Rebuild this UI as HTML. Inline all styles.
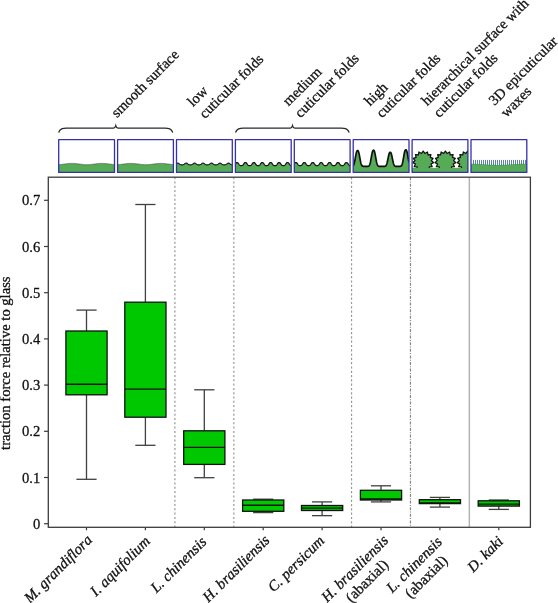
<!DOCTYPE html><html><head><meta charset="utf-8"><style>svg text{stroke:#111;stroke-width:0.3px}html,body{margin:0;padding:0;background:#fff;width:558px;height:603px;overflow:hidden;position:relative}</style></head><body><svg width="558" height="603" viewBox="0 0 558 603" style="position:absolute;left:0;top:0;will-change:transform" font-family='"Liberation Serif", serif' font-size="14.6" fill="#111">
<defs><clipPath id="c0"><rect x="58.70" y="139.7" width="55.8" height="32.70"/></clipPath><clipPath id="c1"><rect x="117.60" y="139.7" width="55.8" height="32.70"/></clipPath><clipPath id="c2"><rect x="176.50" y="139.7" width="55.8" height="32.70"/></clipPath><clipPath id="c3"><rect x="235.40" y="139.7" width="55.8" height="32.70"/></clipPath><clipPath id="c4"><rect x="294.30" y="139.7" width="55.8" height="32.70"/></clipPath><clipPath id="c5"><rect x="353.20" y="139.7" width="55.8" height="32.70"/></clipPath><clipPath id="c6"><rect x="412.10" y="139.7" width="55.8" height="32.70"/></clipPath><clipPath id="c7"><rect x="471.00" y="139.7" width="55.8" height="32.70"/></clipPath></defs>
<g clip-path="url(#c0)"><polygon points="58.70,164.66 58.95,164.65 59.20,164.63 59.45,164.62 59.70,164.60 59.95,164.58 60.20,164.56 60.45,164.54 60.70,164.51 60.95,164.49 61.20,164.46 61.45,164.44 61.70,164.41 61.95,164.38 62.20,164.35 62.45,164.32 62.70,164.29 62.95,164.26 63.20,164.22 63.45,164.19 63.70,164.16 63.95,164.12 64.20,164.09 64.45,164.06 64.70,164.02 64.95,163.99 65.20,163.96 65.45,163.92 65.70,163.89 65.95,163.86 66.20,163.82 66.45,163.79 66.70,163.76 66.95,163.73 67.20,163.70 67.45,163.67 67.70,163.65 67.95,163.62 68.20,163.60 68.45,163.57 68.70,163.55 68.95,163.53 69.20,163.51 69.45,163.49 69.70,163.47 69.95,163.46 70.20,163.45 70.45,163.43 70.70,163.42 70.95,163.42 71.20,163.41 71.45,163.40 71.70,163.40 71.95,163.40 72.20,163.40 72.45,163.40 72.70,163.41 72.95,163.41 73.20,163.42 73.45,163.43 73.70,163.44 73.95,163.45 74.20,163.47 74.45,163.48 74.70,163.50 74.95,163.52 75.20,163.54 75.45,163.56 75.70,163.59 75.95,163.61 76.20,163.64 76.45,163.66 76.70,163.69 76.95,163.72 77.20,163.75 77.45,163.78 77.70,163.81 77.95,163.84 78.20,163.88 78.45,163.91 78.70,163.94 78.95,163.98 79.20,164.01 79.45,164.04 79.70,164.08 79.95,164.11 80.20,164.14 80.45,164.18 80.70,164.21 80.95,164.24 81.20,164.28 81.45,164.31 81.70,164.34 81.95,164.37 82.20,164.40 82.45,164.43 82.70,164.45 82.95,164.48 83.20,164.50 83.45,164.53 83.70,164.55 83.95,164.57 84.20,164.59 84.45,164.61 84.70,164.63 84.95,164.64 85.20,164.65 85.45,164.67 85.70,164.68 85.95,164.68 86.20,164.69 86.45,164.70 86.70,164.70 86.95,164.70 87.20,164.70 87.45,164.70 87.70,164.69 87.95,164.69 88.20,164.68 88.45,164.67 88.70,164.66 88.95,164.65 89.20,164.63 89.45,164.62 89.70,164.60 89.95,164.58 90.20,164.56 90.45,164.54 90.70,164.51 90.95,164.49 91.20,164.46 91.45,164.44 91.70,164.41 91.95,164.38 92.20,164.35 92.45,164.32 92.70,164.29 92.95,164.26 93.20,164.22 93.45,164.19 93.70,164.16 93.95,164.12 94.20,164.09 94.45,164.06 94.70,164.02 94.95,163.99 95.20,163.96 95.45,163.92 95.70,163.89 95.95,163.86 96.20,163.82 96.45,163.79 96.70,163.76 96.95,163.73 97.20,163.70 97.45,163.67 97.70,163.65 97.95,163.62 98.20,163.60 98.45,163.57 98.70,163.55 98.95,163.53 99.20,163.51 99.45,163.49 99.70,163.47 99.95,163.46 100.20,163.45 100.45,163.43 100.70,163.42 100.95,163.42 101.20,163.41 101.45,163.40 101.70,163.40 101.95,163.40 102.20,163.40 102.45,163.40 102.70,163.41 102.95,163.41 103.20,163.42 103.45,163.43 103.70,163.44 103.95,163.45 104.20,163.47 104.45,163.48 104.70,163.50 104.95,163.52 105.20,163.54 105.45,163.56 105.70,163.59 105.95,163.61 106.20,163.64 106.45,163.66 106.70,163.69 106.95,163.72 107.20,163.75 107.45,163.78 107.70,163.81 107.95,163.84 108.20,163.88 108.45,163.91 108.70,163.94 108.95,163.98 109.20,164.01 109.45,164.04 109.70,164.08 109.95,164.11 110.20,164.14 110.45,164.18 110.70,164.21 110.95,164.24 111.20,164.28 111.45,164.31 111.70,164.34 111.95,164.37 112.20,164.40 112.45,164.43 112.70,164.45 112.95,164.48 113.20,164.50 113.45,164.53 113.70,164.55 113.95,164.57 114.20,164.59 114.45,164.61 114.50,172.4 58.70,172.4" fill="#56ab56"/><polyline points="58.70,164.66 58.95,164.65 59.20,164.63 59.45,164.62 59.70,164.60 59.95,164.58 60.20,164.56 60.45,164.54 60.70,164.51 60.95,164.49 61.20,164.46 61.45,164.44 61.70,164.41 61.95,164.38 62.20,164.35 62.45,164.32 62.70,164.29 62.95,164.26 63.20,164.22 63.45,164.19 63.70,164.16 63.95,164.12 64.20,164.09 64.45,164.06 64.70,164.02 64.95,163.99 65.20,163.96 65.45,163.92 65.70,163.89 65.95,163.86 66.20,163.82 66.45,163.79 66.70,163.76 66.95,163.73 67.20,163.70 67.45,163.67 67.70,163.65 67.95,163.62 68.20,163.60 68.45,163.57 68.70,163.55 68.95,163.53 69.20,163.51 69.45,163.49 69.70,163.47 69.95,163.46 70.20,163.45 70.45,163.43 70.70,163.42 70.95,163.42 71.20,163.41 71.45,163.40 71.70,163.40 71.95,163.40 72.20,163.40 72.45,163.40 72.70,163.41 72.95,163.41 73.20,163.42 73.45,163.43 73.70,163.44 73.95,163.45 74.20,163.47 74.45,163.48 74.70,163.50 74.95,163.52 75.20,163.54 75.45,163.56 75.70,163.59 75.95,163.61 76.20,163.64 76.45,163.66 76.70,163.69 76.95,163.72 77.20,163.75 77.45,163.78 77.70,163.81 77.95,163.84 78.20,163.88 78.45,163.91 78.70,163.94 78.95,163.98 79.20,164.01 79.45,164.04 79.70,164.08 79.95,164.11 80.20,164.14 80.45,164.18 80.70,164.21 80.95,164.24 81.20,164.28 81.45,164.31 81.70,164.34 81.95,164.37 82.20,164.40 82.45,164.43 82.70,164.45 82.95,164.48 83.20,164.50 83.45,164.53 83.70,164.55 83.95,164.57 84.20,164.59 84.45,164.61 84.70,164.63 84.95,164.64 85.20,164.65 85.45,164.67 85.70,164.68 85.95,164.68 86.20,164.69 86.45,164.70 86.70,164.70 86.95,164.70 87.20,164.70 87.45,164.70 87.70,164.69 87.95,164.69 88.20,164.68 88.45,164.67 88.70,164.66 88.95,164.65 89.20,164.63 89.45,164.62 89.70,164.60 89.95,164.58 90.20,164.56 90.45,164.54 90.70,164.51 90.95,164.49 91.20,164.46 91.45,164.44 91.70,164.41 91.95,164.38 92.20,164.35 92.45,164.32 92.70,164.29 92.95,164.26 93.20,164.22 93.45,164.19 93.70,164.16 93.95,164.12 94.20,164.09 94.45,164.06 94.70,164.02 94.95,163.99 95.20,163.96 95.45,163.92 95.70,163.89 95.95,163.86 96.20,163.82 96.45,163.79 96.70,163.76 96.95,163.73 97.20,163.70 97.45,163.67 97.70,163.65 97.95,163.62 98.20,163.60 98.45,163.57 98.70,163.55 98.95,163.53 99.20,163.51 99.45,163.49 99.70,163.47 99.95,163.46 100.20,163.45 100.45,163.43 100.70,163.42 100.95,163.42 101.20,163.41 101.45,163.40 101.70,163.40 101.95,163.40 102.20,163.40 102.45,163.40 102.70,163.41 102.95,163.41 103.20,163.42 103.45,163.43 103.70,163.44 103.95,163.45 104.20,163.47 104.45,163.48 104.70,163.50 104.95,163.52 105.20,163.54 105.45,163.56 105.70,163.59 105.95,163.61 106.20,163.64 106.45,163.66 106.70,163.69 106.95,163.72 107.20,163.75 107.45,163.78 107.70,163.81 107.95,163.84 108.20,163.88 108.45,163.91 108.70,163.94 108.95,163.98 109.20,164.01 109.45,164.04 109.70,164.08 109.95,164.11 110.20,164.14 110.45,164.18 110.70,164.21 110.95,164.24 111.20,164.28 111.45,164.31 111.70,164.34 111.95,164.37 112.20,164.40 112.45,164.43 112.70,164.45 112.95,164.48 113.20,164.50 113.45,164.53 113.70,164.55 113.95,164.57 114.20,164.59 114.45,164.61" fill="none" stroke="#555" stroke-width="0.7" stroke-linejoin="round"/></g>
<g clip-path="url(#c1)"><polygon points="117.60,164.66 117.85,164.65 118.10,164.63 118.35,164.62 118.60,164.60 118.85,164.58 119.10,164.56 119.35,164.54 119.60,164.51 119.85,164.49 120.10,164.46 120.35,164.44 120.60,164.41 120.85,164.38 121.10,164.35 121.35,164.32 121.60,164.29 121.85,164.26 122.10,164.22 122.35,164.19 122.60,164.16 122.85,164.12 123.10,164.09 123.35,164.06 123.60,164.02 123.85,163.99 124.10,163.96 124.35,163.92 124.60,163.89 124.85,163.86 125.10,163.82 125.35,163.79 125.60,163.76 125.85,163.73 126.10,163.70 126.35,163.67 126.60,163.65 126.85,163.62 127.10,163.60 127.35,163.57 127.60,163.55 127.85,163.53 128.10,163.51 128.35,163.49 128.60,163.47 128.85,163.46 129.10,163.45 129.35,163.43 129.60,163.42 129.85,163.42 130.10,163.41 130.35,163.40 130.60,163.40 130.85,163.40 131.10,163.40 131.35,163.40 131.60,163.41 131.85,163.41 132.10,163.42 132.35,163.43 132.60,163.44 132.85,163.45 133.10,163.47 133.35,163.48 133.60,163.50 133.85,163.52 134.10,163.54 134.35,163.56 134.60,163.59 134.85,163.61 135.10,163.64 135.35,163.66 135.60,163.69 135.85,163.72 136.10,163.75 136.35,163.78 136.60,163.81 136.85,163.84 137.10,163.88 137.35,163.91 137.60,163.94 137.85,163.98 138.10,164.01 138.35,164.04 138.60,164.08 138.85,164.11 139.10,164.14 139.35,164.18 139.60,164.21 139.85,164.24 140.10,164.28 140.35,164.31 140.60,164.34 140.85,164.37 141.10,164.40 141.35,164.43 141.60,164.45 141.85,164.48 142.10,164.50 142.35,164.53 142.60,164.55 142.85,164.57 143.10,164.59 143.35,164.61 143.60,164.63 143.85,164.64 144.10,164.65 144.35,164.67 144.60,164.68 144.85,164.68 145.10,164.69 145.35,164.70 145.60,164.70 145.85,164.70 146.10,164.70 146.35,164.70 146.60,164.69 146.85,164.69 147.10,164.68 147.35,164.67 147.60,164.66 147.85,164.65 148.10,164.63 148.35,164.62 148.60,164.60 148.85,164.58 149.10,164.56 149.35,164.54 149.60,164.51 149.85,164.49 150.10,164.46 150.35,164.44 150.60,164.41 150.85,164.38 151.10,164.35 151.35,164.32 151.60,164.29 151.85,164.26 152.10,164.22 152.35,164.19 152.60,164.16 152.85,164.12 153.10,164.09 153.35,164.06 153.60,164.02 153.85,163.99 154.10,163.96 154.35,163.92 154.60,163.89 154.85,163.86 155.10,163.82 155.35,163.79 155.60,163.76 155.85,163.73 156.10,163.70 156.35,163.67 156.60,163.65 156.85,163.62 157.10,163.60 157.35,163.57 157.60,163.55 157.85,163.53 158.10,163.51 158.35,163.49 158.60,163.47 158.85,163.46 159.10,163.45 159.35,163.43 159.60,163.42 159.85,163.42 160.10,163.41 160.35,163.40 160.60,163.40 160.85,163.40 161.10,163.40 161.35,163.40 161.60,163.41 161.85,163.41 162.10,163.42 162.35,163.43 162.60,163.44 162.85,163.45 163.10,163.47 163.35,163.48 163.60,163.50 163.85,163.52 164.10,163.54 164.35,163.56 164.60,163.59 164.85,163.61 165.10,163.64 165.35,163.66 165.60,163.69 165.85,163.72 166.10,163.75 166.35,163.78 166.60,163.81 166.85,163.84 167.10,163.88 167.35,163.91 167.60,163.94 167.85,163.98 168.10,164.01 168.35,164.04 168.60,164.08 168.85,164.11 169.10,164.14 169.35,164.18 169.60,164.21 169.85,164.24 170.10,164.28 170.35,164.31 170.60,164.34 170.85,164.37 171.10,164.40 171.35,164.43 171.60,164.45 171.85,164.48 172.10,164.50 172.35,164.53 172.60,164.55 172.85,164.57 173.10,164.59 173.35,164.61 173.40,172.4 117.60,172.4" fill="#56ab56"/><polyline points="117.60,164.66 117.85,164.65 118.10,164.63 118.35,164.62 118.60,164.60 118.85,164.58 119.10,164.56 119.35,164.54 119.60,164.51 119.85,164.49 120.10,164.46 120.35,164.44 120.60,164.41 120.85,164.38 121.10,164.35 121.35,164.32 121.60,164.29 121.85,164.26 122.10,164.22 122.35,164.19 122.60,164.16 122.85,164.12 123.10,164.09 123.35,164.06 123.60,164.02 123.85,163.99 124.10,163.96 124.35,163.92 124.60,163.89 124.85,163.86 125.10,163.82 125.35,163.79 125.60,163.76 125.85,163.73 126.10,163.70 126.35,163.67 126.60,163.65 126.85,163.62 127.10,163.60 127.35,163.57 127.60,163.55 127.85,163.53 128.10,163.51 128.35,163.49 128.60,163.47 128.85,163.46 129.10,163.45 129.35,163.43 129.60,163.42 129.85,163.42 130.10,163.41 130.35,163.40 130.60,163.40 130.85,163.40 131.10,163.40 131.35,163.40 131.60,163.41 131.85,163.41 132.10,163.42 132.35,163.43 132.60,163.44 132.85,163.45 133.10,163.47 133.35,163.48 133.60,163.50 133.85,163.52 134.10,163.54 134.35,163.56 134.60,163.59 134.85,163.61 135.10,163.64 135.35,163.66 135.60,163.69 135.85,163.72 136.10,163.75 136.35,163.78 136.60,163.81 136.85,163.84 137.10,163.88 137.35,163.91 137.60,163.94 137.85,163.98 138.10,164.01 138.35,164.04 138.60,164.08 138.85,164.11 139.10,164.14 139.35,164.18 139.60,164.21 139.85,164.24 140.10,164.28 140.35,164.31 140.60,164.34 140.85,164.37 141.10,164.40 141.35,164.43 141.60,164.45 141.85,164.48 142.10,164.50 142.35,164.53 142.60,164.55 142.85,164.57 143.10,164.59 143.35,164.61 143.60,164.63 143.85,164.64 144.10,164.65 144.35,164.67 144.60,164.68 144.85,164.68 145.10,164.69 145.35,164.70 145.60,164.70 145.85,164.70 146.10,164.70 146.35,164.70 146.60,164.69 146.85,164.69 147.10,164.68 147.35,164.67 147.60,164.66 147.85,164.65 148.10,164.63 148.35,164.62 148.60,164.60 148.85,164.58 149.10,164.56 149.35,164.54 149.60,164.51 149.85,164.49 150.10,164.46 150.35,164.44 150.60,164.41 150.85,164.38 151.10,164.35 151.35,164.32 151.60,164.29 151.85,164.26 152.10,164.22 152.35,164.19 152.60,164.16 152.85,164.12 153.10,164.09 153.35,164.06 153.60,164.02 153.85,163.99 154.10,163.96 154.35,163.92 154.60,163.89 154.85,163.86 155.10,163.82 155.35,163.79 155.60,163.76 155.85,163.73 156.10,163.70 156.35,163.67 156.60,163.65 156.85,163.62 157.10,163.60 157.35,163.57 157.60,163.55 157.85,163.53 158.10,163.51 158.35,163.49 158.60,163.47 158.85,163.46 159.10,163.45 159.35,163.43 159.60,163.42 159.85,163.42 160.10,163.41 160.35,163.40 160.60,163.40 160.85,163.40 161.10,163.40 161.35,163.40 161.60,163.41 161.85,163.41 162.10,163.42 162.35,163.43 162.60,163.44 162.85,163.45 163.10,163.47 163.35,163.48 163.60,163.50 163.85,163.52 164.10,163.54 164.35,163.56 164.60,163.59 164.85,163.61 165.10,163.64 165.35,163.66 165.60,163.69 165.85,163.72 166.10,163.75 166.35,163.78 166.60,163.81 166.85,163.84 167.10,163.88 167.35,163.91 167.60,163.94 167.85,163.98 168.10,164.01 168.35,164.04 168.60,164.08 168.85,164.11 169.10,164.14 169.35,164.18 169.60,164.21 169.85,164.24 170.10,164.28 170.35,164.31 170.60,164.34 170.85,164.37 171.10,164.40 171.35,164.43 171.60,164.45 171.85,164.48 172.10,164.50 172.35,164.53 172.60,164.55 172.85,164.57 173.10,164.59 173.35,164.61" fill="none" stroke="#555" stroke-width="0.7" stroke-linejoin="round"/></g>
<g clip-path="url(#c2)"><polygon points="176.50,163.60 176.75,163.42 177.00,163.27 177.25,163.17 177.50,163.11 177.75,163.10 178.00,163.13 178.25,163.20 178.50,163.32 178.75,163.49 179.00,163.68 179.25,163.88 179.50,164.09 179.75,164.27 180.00,164.44 180.25,164.57 180.50,164.68 180.75,164.76 181.00,164.81 181.25,164.85 181.50,164.87 181.75,164.88 182.00,164.89 182.25,164.88 182.50,164.86 182.75,164.83 183.00,164.78 183.25,164.71 183.50,164.62 183.75,164.50 184.00,164.34 184.25,164.16 184.50,163.96 184.75,163.76 185.00,163.56 185.25,163.39 185.50,163.25 185.75,163.15 186.00,163.11 186.25,163.10 186.50,163.14 186.75,163.22 187.00,163.35 187.25,163.52 187.50,163.72 187.75,163.92 188.00,164.12 188.25,164.31 188.50,164.47 188.75,164.60 189.00,164.70 189.25,164.77 189.50,164.82 189.75,164.85 190.00,164.87 190.25,164.89 190.50,164.89 190.75,164.87 191.00,164.85 191.25,164.82 191.50,164.77 191.75,164.70 192.00,164.60 192.25,164.47 192.50,164.31 192.75,164.12 193.00,163.92 193.25,163.72 193.50,163.52 193.75,163.35 194.00,163.22 194.25,163.14 194.50,163.10 194.75,163.11 195.00,163.15 195.25,163.25 195.50,163.39 195.75,163.56 196.00,163.76 196.25,163.96 196.50,164.16 196.75,164.34 197.00,164.50 197.25,164.62 197.50,164.71 197.75,164.78 198.00,164.83 198.25,164.86 198.50,164.88 198.75,164.89 199.00,164.88 199.25,164.87 199.50,164.85 199.75,164.81 200.00,164.76 200.25,164.68 200.50,164.57 200.75,164.44 201.00,164.27 201.25,164.09 201.50,163.88 201.75,163.68 202.00,163.49 202.25,163.32 202.50,163.20 202.75,163.13 203.00,163.10 203.25,163.11 203.50,163.17 203.75,163.27 204.00,163.42 204.25,163.60 204.50,163.80 204.75,164.01 205.00,164.20 205.25,164.38 205.50,164.52 205.75,164.64 206.00,164.73 206.25,164.79 206.50,164.83 206.75,164.86 207.00,164.88 207.25,164.89 207.50,164.88 207.75,164.87 208.00,164.84 208.25,164.80 208.50,164.74 208.75,164.66 209.00,164.55 209.25,164.41 209.50,164.24 209.75,164.05 210.00,163.84 210.25,163.64 210.50,163.45 210.75,163.30 211.00,163.18 211.25,163.12 211.50,163.10 211.75,163.12 212.00,163.18 212.25,163.30 212.50,163.45 212.75,163.64 213.00,163.84 213.25,164.05 213.50,164.24 213.75,164.41 214.00,164.55 214.25,164.66 214.50,164.74 214.75,164.80 215.00,164.84 215.25,164.87 215.50,164.88 215.75,164.89 216.00,164.88 216.25,164.86 216.50,164.83 216.75,164.79 217.00,164.73 217.25,164.64 217.50,164.52 217.75,164.38 218.00,164.20 218.25,164.01 218.50,163.80 218.75,163.60 219.00,163.42 219.25,163.27 219.50,163.17 219.75,163.11 220.00,163.10 220.25,163.13 220.50,163.20 220.75,163.32 221.00,163.49 221.25,163.68 221.50,163.88 221.75,164.09 222.00,164.27 222.25,164.44 222.50,164.57 222.75,164.68 223.00,164.76 223.25,164.81 223.50,164.85 223.75,164.87 224.00,164.88 224.25,164.89 224.50,164.88 224.75,164.86 225.00,164.83 225.25,164.78 225.50,164.71 225.75,164.62 226.00,164.50 226.25,164.34 226.50,164.16 226.75,163.96 227.00,163.76 227.25,163.56 227.50,163.39 227.75,163.25 228.00,163.15 228.25,163.11 228.50,163.10 228.75,163.14 229.00,163.22 229.25,163.35 229.50,163.52 229.75,163.72 230.00,163.92 230.25,164.12 230.50,164.31 230.75,164.47 231.00,164.60 231.25,164.70 231.50,164.77 231.75,164.82 232.00,164.85 232.25,164.87 232.30,172.4 176.50,172.4" fill="#56ab56"/><polyline points="176.50,163.60 176.75,163.42 177.00,163.27 177.25,163.17 177.50,163.11 177.75,163.10 178.00,163.13 178.25,163.20 178.50,163.32 178.75,163.49 179.00,163.68 179.25,163.88 179.50,164.09 179.75,164.27 180.00,164.44 180.25,164.57 180.50,164.68 180.75,164.76 181.00,164.81 181.25,164.85 181.50,164.87 181.75,164.88 182.00,164.89 182.25,164.88 182.50,164.86 182.75,164.83 183.00,164.78 183.25,164.71 183.50,164.62 183.75,164.50 184.00,164.34 184.25,164.16 184.50,163.96 184.75,163.76 185.00,163.56 185.25,163.39 185.50,163.25 185.75,163.15 186.00,163.11 186.25,163.10 186.50,163.14 186.75,163.22 187.00,163.35 187.25,163.52 187.50,163.72 187.75,163.92 188.00,164.12 188.25,164.31 188.50,164.47 188.75,164.60 189.00,164.70 189.25,164.77 189.50,164.82 189.75,164.85 190.00,164.87 190.25,164.89 190.50,164.89 190.75,164.87 191.00,164.85 191.25,164.82 191.50,164.77 191.75,164.70 192.00,164.60 192.25,164.47 192.50,164.31 192.75,164.12 193.00,163.92 193.25,163.72 193.50,163.52 193.75,163.35 194.00,163.22 194.25,163.14 194.50,163.10 194.75,163.11 195.00,163.15 195.25,163.25 195.50,163.39 195.75,163.56 196.00,163.76 196.25,163.96 196.50,164.16 196.75,164.34 197.00,164.50 197.25,164.62 197.50,164.71 197.75,164.78 198.00,164.83 198.25,164.86 198.50,164.88 198.75,164.89 199.00,164.88 199.25,164.87 199.50,164.85 199.75,164.81 200.00,164.76 200.25,164.68 200.50,164.57 200.75,164.44 201.00,164.27 201.25,164.09 201.50,163.88 201.75,163.68 202.00,163.49 202.25,163.32 202.50,163.20 202.75,163.13 203.00,163.10 203.25,163.11 203.50,163.17 203.75,163.27 204.00,163.42 204.25,163.60 204.50,163.80 204.75,164.01 205.00,164.20 205.25,164.38 205.50,164.52 205.75,164.64 206.00,164.73 206.25,164.79 206.50,164.83 206.75,164.86 207.00,164.88 207.25,164.89 207.50,164.88 207.75,164.87 208.00,164.84 208.25,164.80 208.50,164.74 208.75,164.66 209.00,164.55 209.25,164.41 209.50,164.24 209.75,164.05 210.00,163.84 210.25,163.64 210.50,163.45 210.75,163.30 211.00,163.18 211.25,163.12 211.50,163.10 211.75,163.12 212.00,163.18 212.25,163.30 212.50,163.45 212.75,163.64 213.00,163.84 213.25,164.05 213.50,164.24 213.75,164.41 214.00,164.55 214.25,164.66 214.50,164.74 214.75,164.80 215.00,164.84 215.25,164.87 215.50,164.88 215.75,164.89 216.00,164.88 216.25,164.86 216.50,164.83 216.75,164.79 217.00,164.73 217.25,164.64 217.50,164.52 217.75,164.38 218.00,164.20 218.25,164.01 218.50,163.80 218.75,163.60 219.00,163.42 219.25,163.27 219.50,163.17 219.75,163.11 220.00,163.10 220.25,163.13 220.50,163.20 220.75,163.32 221.00,163.49 221.25,163.68 221.50,163.88 221.75,164.09 222.00,164.27 222.25,164.44 222.50,164.57 222.75,164.68 223.00,164.76 223.25,164.81 223.50,164.85 223.75,164.87 224.00,164.88 224.25,164.89 224.50,164.88 224.75,164.86 225.00,164.83 225.25,164.78 225.50,164.71 225.75,164.62 226.00,164.50 226.25,164.34 226.50,164.16 226.75,163.96 227.00,163.76 227.25,163.56 227.50,163.39 227.75,163.25 228.00,163.15 228.25,163.11 228.50,163.10 228.75,163.14 229.00,163.22 229.25,163.35 229.50,163.52 229.75,163.72 230.00,163.92 230.25,164.12 230.50,164.31 230.75,164.47 231.00,164.60 231.25,164.70 231.50,164.77 231.75,164.82 232.00,164.85 232.25,164.87" fill="none" stroke="#1a1a1a" stroke-width="1.1" stroke-linejoin="round"/></g>
<g clip-path="url(#c3)"><polygon points="235.40,163.80 235.65,163.44 235.90,163.11 236.15,162.85 236.40,162.65 236.65,162.54 236.90,162.50 237.15,162.51 237.40,162.56 237.65,162.69 237.90,162.89 238.15,163.17 238.40,163.51 238.65,163.87 238.90,164.24 239.15,164.59 239.40,164.89 239.65,165.14 239.90,165.33 240.15,165.47 240.40,165.57 240.65,165.63 240.90,165.66 241.15,165.68 241.40,165.67 241.65,165.65 241.90,165.60 242.15,165.52 242.40,165.41 242.65,165.24 242.90,165.02 243.15,164.74 243.40,164.41 243.65,164.05 243.90,163.68 244.15,163.33 244.40,163.02 244.65,162.78 244.90,162.61 245.15,162.52 245.40,162.50 245.65,162.52 245.90,162.59 246.15,162.74 246.40,162.97 246.65,163.27 246.90,163.62 247.15,163.99 247.40,164.36 247.65,164.69 247.90,164.98 248.15,165.21 248.40,165.38 248.65,165.51 248.90,165.59 249.15,165.64 249.40,165.67 249.65,165.68 249.90,165.67 250.15,165.63 250.40,165.58 250.65,165.49 250.90,165.36 251.15,165.18 251.40,164.94 251.65,164.64 251.90,164.30 252.15,163.93 252.40,163.56 252.65,163.22 252.90,162.93 253.15,162.71 253.40,162.57 253.65,162.51 253.90,162.50 254.15,162.53 254.40,162.63 254.65,162.81 254.90,163.06 255.15,163.38 255.40,163.74 255.65,164.11 255.90,164.47 256.15,164.79 256.40,165.06 256.65,165.27 256.90,165.43 257.15,165.54 257.40,165.61 257.65,165.65 257.90,165.68 258.15,165.68 258.40,165.66 258.65,165.62 258.90,165.55 259.15,165.45 259.40,165.31 259.65,165.11 259.90,164.85 260.15,164.54 260.40,164.18 260.65,163.81 260.90,163.45 261.15,163.12 261.40,162.85 261.65,162.66 261.90,162.55 262.15,162.50 262.40,162.50 262.65,162.56 262.90,162.68 263.15,162.88 263.40,163.16 263.65,163.49 263.90,163.86 264.15,164.23 264.40,164.58 264.65,164.88 264.90,165.13 265.15,165.33 265.40,165.47 265.65,165.56 265.90,165.62 266.15,165.66 266.40,165.68 266.65,165.67 266.90,165.65 267.15,165.60 267.40,165.53 267.65,165.41 267.90,165.25 268.15,165.03 268.40,164.75 268.65,164.43 268.90,164.07 269.15,163.70 269.40,163.34 269.65,163.03 269.90,162.78 270.15,162.62 270.40,162.53 270.65,162.50 270.90,162.51 271.15,162.59 271.40,162.74 271.65,162.96 271.90,163.26 272.15,163.61 272.40,163.98 272.65,164.34 272.90,164.68 273.15,164.97 273.40,165.20 273.65,165.38 273.90,165.50 274.15,165.59 274.40,165.64 274.65,165.67 274.90,165.68 275.15,165.67 275.40,165.63 275.65,165.58 275.90,165.50 276.15,165.37 276.40,165.19 276.65,164.95 276.90,164.65 277.15,164.31 277.40,163.95 277.65,163.58 277.90,163.24 278.15,162.94 278.40,162.72 278.65,162.58 278.90,162.51 279.15,162.50 279.40,162.53 279.65,162.63 279.90,162.80 280.15,163.05 280.40,163.37 280.65,163.72 280.90,164.10 281.15,164.45 281.40,164.78 281.65,165.05 281.90,165.26 282.15,165.42 282.40,165.53 282.65,165.61 282.90,165.65 283.15,165.67 283.40,165.68 283.65,165.66 283.90,165.62 284.15,165.56 284.40,165.46 284.65,165.31 284.90,165.12 285.15,164.86 285.40,164.55 285.65,164.20 285.90,163.83 286.15,163.46 286.40,163.14 286.65,162.86 286.90,162.67 287.15,162.55 287.40,162.50 287.65,162.50 287.90,162.55 288.15,162.67 288.40,162.87 288.65,163.15 288.90,163.48 289.15,163.84 289.40,164.21 289.65,164.56 289.90,164.87 290.15,165.12 290.40,165.32 290.65,165.46 290.90,165.56 291.15,165.62 291.20,172.4 235.40,172.4" fill="#56ab56"/><polyline points="235.40,163.80 235.65,163.44 235.90,163.11 236.15,162.85 236.40,162.65 236.65,162.54 236.90,162.50 237.15,162.51 237.40,162.56 237.65,162.69 237.90,162.89 238.15,163.17 238.40,163.51 238.65,163.87 238.90,164.24 239.15,164.59 239.40,164.89 239.65,165.14 239.90,165.33 240.15,165.47 240.40,165.57 240.65,165.63 240.90,165.66 241.15,165.68 241.40,165.67 241.65,165.65 241.90,165.60 242.15,165.52 242.40,165.41 242.65,165.24 242.90,165.02 243.15,164.74 243.40,164.41 243.65,164.05 243.90,163.68 244.15,163.33 244.40,163.02 244.65,162.78 244.90,162.61 245.15,162.52 245.40,162.50 245.65,162.52 245.90,162.59 246.15,162.74 246.40,162.97 246.65,163.27 246.90,163.62 247.15,163.99 247.40,164.36 247.65,164.69 247.90,164.98 248.15,165.21 248.40,165.38 248.65,165.51 248.90,165.59 249.15,165.64 249.40,165.67 249.65,165.68 249.90,165.67 250.15,165.63 250.40,165.58 250.65,165.49 250.90,165.36 251.15,165.18 251.40,164.94 251.65,164.64 251.90,164.30 252.15,163.93 252.40,163.56 252.65,163.22 252.90,162.93 253.15,162.71 253.40,162.57 253.65,162.51 253.90,162.50 254.15,162.53 254.40,162.63 254.65,162.81 254.90,163.06 255.15,163.38 255.40,163.74 255.65,164.11 255.90,164.47 256.15,164.79 256.40,165.06 256.65,165.27 256.90,165.43 257.15,165.54 257.40,165.61 257.65,165.65 257.90,165.68 258.15,165.68 258.40,165.66 258.65,165.62 258.90,165.55 259.15,165.45 259.40,165.31 259.65,165.11 259.90,164.85 260.15,164.54 260.40,164.18 260.65,163.81 260.90,163.45 261.15,163.12 261.40,162.85 261.65,162.66 261.90,162.55 262.15,162.50 262.40,162.50 262.65,162.56 262.90,162.68 263.15,162.88 263.40,163.16 263.65,163.49 263.90,163.86 264.15,164.23 264.40,164.58 264.65,164.88 264.90,165.13 265.15,165.33 265.40,165.47 265.65,165.56 265.90,165.62 266.15,165.66 266.40,165.68 266.65,165.67 266.90,165.65 267.15,165.60 267.40,165.53 267.65,165.41 267.90,165.25 268.15,165.03 268.40,164.75 268.65,164.43 268.90,164.07 269.15,163.70 269.40,163.34 269.65,163.03 269.90,162.78 270.15,162.62 270.40,162.53 270.65,162.50 270.90,162.51 271.15,162.59 271.40,162.74 271.65,162.96 271.90,163.26 272.15,163.61 272.40,163.98 272.65,164.34 272.90,164.68 273.15,164.97 273.40,165.20 273.65,165.38 273.90,165.50 274.15,165.59 274.40,165.64 274.65,165.67 274.90,165.68 275.15,165.67 275.40,165.63 275.65,165.58 275.90,165.50 276.15,165.37 276.40,165.19 276.65,164.95 276.90,164.65 277.15,164.31 277.40,163.95 277.65,163.58 277.90,163.24 278.15,162.94 278.40,162.72 278.65,162.58 278.90,162.51 279.15,162.50 279.40,162.53 279.65,162.63 279.90,162.80 280.15,163.05 280.40,163.37 280.65,163.72 280.90,164.10 281.15,164.45 281.40,164.78 281.65,165.05 281.90,165.26 282.15,165.42 282.40,165.53 282.65,165.61 282.90,165.65 283.15,165.67 283.40,165.68 283.65,165.66 283.90,165.62 284.15,165.56 284.40,165.46 284.65,165.31 284.90,165.12 285.15,164.86 285.40,164.55 285.65,164.20 285.90,163.83 286.15,163.46 286.40,163.14 286.65,162.86 286.90,162.67 287.15,162.55 287.40,162.50 287.65,162.50 287.90,162.55 288.15,162.67 288.40,162.87 288.65,163.15 288.90,163.48 289.15,163.84 289.40,164.21 289.65,164.56 289.90,164.87 290.15,165.12 290.40,165.32 290.65,165.46 290.90,165.56 291.15,165.62" fill="none" stroke="#151515" stroke-width="1.25" stroke-linejoin="round"/></g>
<g clip-path="url(#c4)"><polygon points="294.30,163.80 294.55,163.44 294.80,163.11 295.05,162.85 295.30,162.65 295.55,162.54 295.80,162.50 296.05,162.51 296.30,162.56 296.55,162.69 296.80,162.89 297.05,163.17 297.30,163.51 297.55,163.87 297.80,164.24 298.05,164.59 298.30,164.89 298.55,165.14 298.80,165.33 299.05,165.47 299.30,165.57 299.55,165.63 299.80,165.66 300.05,165.68 300.30,165.67 300.55,165.65 300.80,165.60 301.05,165.52 301.30,165.41 301.55,165.24 301.80,165.02 302.05,164.74 302.30,164.41 302.55,164.05 302.80,163.68 303.05,163.33 303.30,163.02 303.55,162.78 303.80,162.61 304.05,162.52 304.30,162.50 304.55,162.52 304.80,162.59 305.05,162.74 305.30,162.97 305.55,163.27 305.80,163.62 306.05,163.99 306.30,164.36 306.55,164.69 306.80,164.98 307.05,165.21 307.30,165.38 307.55,165.51 307.80,165.59 308.05,165.64 308.30,165.67 308.55,165.68 308.80,165.67 309.05,165.63 309.30,165.58 309.55,165.49 309.80,165.36 310.05,165.18 310.30,164.94 310.55,164.64 310.80,164.30 311.05,163.93 311.30,163.56 311.55,163.22 311.80,162.93 312.05,162.71 312.30,162.57 312.55,162.51 312.80,162.50 313.05,162.53 313.30,162.63 313.55,162.81 313.80,163.06 314.05,163.38 314.30,163.74 314.55,164.11 314.80,164.47 315.05,164.79 315.30,165.06 315.55,165.27 315.80,165.43 316.05,165.54 316.30,165.61 316.55,165.65 316.80,165.68 317.05,165.68 317.30,165.66 317.55,165.62 317.80,165.55 318.05,165.45 318.30,165.31 318.55,165.11 318.80,164.85 319.05,164.54 319.30,164.18 319.55,163.81 319.80,163.45 320.05,163.12 320.30,162.85 320.55,162.66 320.80,162.55 321.05,162.50 321.30,162.50 321.55,162.56 321.80,162.68 322.05,162.88 322.30,163.16 322.55,163.49 322.80,163.86 323.05,164.23 323.30,164.58 323.55,164.88 323.80,165.13 324.05,165.33 324.30,165.47 324.55,165.56 324.80,165.62 325.05,165.66 325.30,165.68 325.55,165.67 325.80,165.65 326.05,165.60 326.30,165.53 326.55,165.41 326.80,165.25 327.05,165.03 327.30,164.75 327.55,164.43 327.80,164.07 328.05,163.70 328.30,163.34 328.55,163.03 328.80,162.78 329.05,162.62 329.30,162.53 329.55,162.50 329.80,162.51 330.05,162.59 330.30,162.74 330.55,162.96 330.80,163.26 331.05,163.61 331.30,163.98 331.55,164.34 331.80,164.68 332.05,164.97 332.30,165.20 332.55,165.38 332.80,165.50 333.05,165.59 333.30,165.64 333.55,165.67 333.80,165.68 334.05,165.67 334.30,165.63 334.55,165.58 334.80,165.50 335.05,165.37 335.30,165.19 335.55,164.95 335.80,164.65 336.05,164.31 336.30,163.95 336.55,163.58 336.80,163.24 337.05,162.94 337.30,162.72 337.55,162.58 337.80,162.51 338.05,162.50 338.30,162.53 338.55,162.63 338.80,162.80 339.05,163.05 339.30,163.37 339.55,163.72 339.80,164.10 340.05,164.45 340.30,164.78 340.55,165.05 340.80,165.26 341.05,165.42 341.30,165.53 341.55,165.61 341.80,165.65 342.05,165.67 342.30,165.68 342.55,165.66 342.80,165.62 343.05,165.56 343.30,165.46 343.55,165.31 343.80,165.12 344.05,164.86 344.30,164.55 344.55,164.20 344.80,163.83 345.05,163.46 345.30,163.14 345.55,162.86 345.80,162.67 346.05,162.55 346.30,162.50 346.55,162.50 346.80,162.55 347.05,162.67 347.30,162.87 347.55,163.15 347.80,163.48 348.05,163.84 348.30,164.21 348.55,164.56 348.80,164.87 349.05,165.12 349.30,165.32 349.55,165.46 349.80,165.56 350.05,165.62 350.10,172.4 294.30,172.4" fill="#56ab56"/><polyline points="294.30,163.80 294.55,163.44 294.80,163.11 295.05,162.85 295.30,162.65 295.55,162.54 295.80,162.50 296.05,162.51 296.30,162.56 296.55,162.69 296.80,162.89 297.05,163.17 297.30,163.51 297.55,163.87 297.80,164.24 298.05,164.59 298.30,164.89 298.55,165.14 298.80,165.33 299.05,165.47 299.30,165.57 299.55,165.63 299.80,165.66 300.05,165.68 300.30,165.67 300.55,165.65 300.80,165.60 301.05,165.52 301.30,165.41 301.55,165.24 301.80,165.02 302.05,164.74 302.30,164.41 302.55,164.05 302.80,163.68 303.05,163.33 303.30,163.02 303.55,162.78 303.80,162.61 304.05,162.52 304.30,162.50 304.55,162.52 304.80,162.59 305.05,162.74 305.30,162.97 305.55,163.27 305.80,163.62 306.05,163.99 306.30,164.36 306.55,164.69 306.80,164.98 307.05,165.21 307.30,165.38 307.55,165.51 307.80,165.59 308.05,165.64 308.30,165.67 308.55,165.68 308.80,165.67 309.05,165.63 309.30,165.58 309.55,165.49 309.80,165.36 310.05,165.18 310.30,164.94 310.55,164.64 310.80,164.30 311.05,163.93 311.30,163.56 311.55,163.22 311.80,162.93 312.05,162.71 312.30,162.57 312.55,162.51 312.80,162.50 313.05,162.53 313.30,162.63 313.55,162.81 313.80,163.06 314.05,163.38 314.30,163.74 314.55,164.11 314.80,164.47 315.05,164.79 315.30,165.06 315.55,165.27 315.80,165.43 316.05,165.54 316.30,165.61 316.55,165.65 316.80,165.68 317.05,165.68 317.30,165.66 317.55,165.62 317.80,165.55 318.05,165.45 318.30,165.31 318.55,165.11 318.80,164.85 319.05,164.54 319.30,164.18 319.55,163.81 319.80,163.45 320.05,163.12 320.30,162.85 320.55,162.66 320.80,162.55 321.05,162.50 321.30,162.50 321.55,162.56 321.80,162.68 322.05,162.88 322.30,163.16 322.55,163.49 322.80,163.86 323.05,164.23 323.30,164.58 323.55,164.88 323.80,165.13 324.05,165.33 324.30,165.47 324.55,165.56 324.80,165.62 325.05,165.66 325.30,165.68 325.55,165.67 325.80,165.65 326.05,165.60 326.30,165.53 326.55,165.41 326.80,165.25 327.05,165.03 327.30,164.75 327.55,164.43 327.80,164.07 328.05,163.70 328.30,163.34 328.55,163.03 328.80,162.78 329.05,162.62 329.30,162.53 329.55,162.50 329.80,162.51 330.05,162.59 330.30,162.74 330.55,162.96 330.80,163.26 331.05,163.61 331.30,163.98 331.55,164.34 331.80,164.68 332.05,164.97 332.30,165.20 332.55,165.38 332.80,165.50 333.05,165.59 333.30,165.64 333.55,165.67 333.80,165.68 334.05,165.67 334.30,165.63 334.55,165.58 334.80,165.50 335.05,165.37 335.30,165.19 335.55,164.95 335.80,164.65 336.05,164.31 336.30,163.95 336.55,163.58 336.80,163.24 337.05,162.94 337.30,162.72 337.55,162.58 337.80,162.51 338.05,162.50 338.30,162.53 338.55,162.63 338.80,162.80 339.05,163.05 339.30,163.37 339.55,163.72 339.80,164.10 340.05,164.45 340.30,164.78 340.55,165.05 340.80,165.26 341.05,165.42 341.30,165.53 341.55,165.61 341.80,165.65 342.05,165.67 342.30,165.68 342.55,165.66 342.80,165.62 343.05,165.56 343.30,165.46 343.55,165.31 343.80,165.12 344.05,164.86 344.30,164.55 344.55,164.20 344.80,163.83 345.05,163.46 345.30,163.14 345.55,162.86 345.80,162.67 346.05,162.55 346.30,162.50 346.55,162.50 346.80,162.55 347.05,162.67 347.30,162.87 347.55,163.15 347.80,163.48 348.05,163.84 348.30,164.21 348.55,164.56 348.80,164.87 349.05,165.12 349.30,165.32 349.55,165.46 349.80,165.56 350.05,165.62" fill="none" stroke="#151515" stroke-width="1.25" stroke-linejoin="round"/></g>
<g clip-path="url(#c5)"><polygon points="353.20,165.68 353.45,165.32 353.70,164.83 353.95,164.19 354.20,163.39 354.45,162.42 354.70,161.29 354.95,160.03 355.20,158.67 355.45,157.26 355.70,155.87 355.95,154.54 356.20,153.35 356.45,152.35 356.70,151.55 356.95,150.99 357.20,150.65 357.45,150.51 357.70,150.51 357.95,150.61 358.20,150.91 358.45,151.42 358.70,152.17 358.95,153.14 359.20,154.29 359.45,155.59 359.70,156.98 359.95,158.39 360.20,159.77 360.45,161.05 360.70,162.21 360.95,163.21 361.20,164.04 361.45,164.71 361.70,165.23 361.95,165.61 362.20,165.89 362.45,166.08 362.70,166.21 362.95,166.29 363.20,166.34 363.45,166.37 363.70,166.38 363.95,166.39 364.20,166.40 364.45,166.40 364.70,166.40 364.95,166.40 365.20,166.40 365.45,166.40 365.70,166.40 365.95,166.40 366.20,166.40 366.45,166.40 366.70,166.40 366.95,166.39 367.20,166.39 367.45,166.38 367.70,166.36 367.95,166.33 368.20,166.27 368.45,166.18 368.70,166.04 368.95,165.83 369.20,165.53 369.45,165.11 369.70,164.56 369.95,163.84 370.20,162.96 370.45,161.91 370.70,160.70 370.95,159.37 371.20,157.95 371.45,156.52 371.70,155.12 371.95,153.82 372.20,152.67 372.45,151.73 372.70,151.02 372.95,150.54 373.20,150.28 373.45,150.20 373.70,150.23 373.95,150.41 374.20,150.80 374.45,151.42 374.70,152.27 374.95,153.34 375.20,154.58 375.45,155.95 375.70,157.38 375.95,158.81 376.20,160.18 376.45,161.44 376.70,162.56 376.95,163.51 377.20,164.29 377.45,164.91 377.70,165.38 377.95,165.72 378.20,165.97 378.45,166.13 378.70,166.24 378.95,166.31 379.20,166.35 379.45,166.37 379.70,166.39 379.95,166.39 380.20,166.40 380.45,166.40 380.70,166.40 380.95,166.40 381.20,166.40 381.45,166.40 381.70,166.40 381.95,166.40 382.20,166.40 382.45,166.40 382.70,166.40 382.95,166.40 383.20,166.40 383.45,166.40 383.70,166.39 383.95,166.39 384.20,166.38 384.45,166.36 384.70,166.33 384.95,166.27 385.20,166.19 385.45,166.06 385.70,165.86 385.95,165.58 386.20,165.19 386.45,164.68 386.70,164.03 386.95,163.23 387.20,162.29 387.45,161.21 387.70,160.04 387.95,158.80 388.20,157.55 388.45,156.34 388.70,155.24 388.95,154.27 389.20,153.49 389.45,152.91 389.70,152.53 389.95,152.34 390.20,152.30 390.45,152.34 390.70,152.53 390.95,152.91 391.20,153.49 391.45,154.27 391.70,155.24 391.95,156.34 392.20,157.55 392.45,158.80 392.70,160.04 392.95,161.21 393.20,162.29 393.45,163.23 393.70,164.03 393.95,164.68 394.20,165.19 394.45,165.58 394.70,165.86 394.95,166.06 395.20,166.19 395.45,166.27 395.70,166.33 395.95,166.36 396.20,166.38 396.45,166.39 396.70,166.39 396.95,166.40 397.20,166.40 397.45,166.40 397.70,166.40 397.95,166.40 398.20,166.40 398.45,166.40 398.70,166.40 398.95,166.40 399.20,166.40 399.45,166.39 399.70,166.38 399.95,166.36 400.20,166.33 400.45,166.28 400.70,166.20 400.95,166.06 401.20,165.87 401.45,165.58 401.70,165.18 401.95,164.64 402.20,163.94 402.45,163.07 402.70,162.02 402.95,160.82 403.20,159.47 403.45,158.04 403.70,156.57 403.95,155.12 404.20,153.76 404.45,152.55 404.70,151.54 404.95,150.76 405.20,150.22 405.45,149.92 405.70,149.81 405.95,149.82 406.20,149.96 406.45,150.31 406.70,150.90 406.95,151.73 407.20,152.78 407.45,154.02 407.70,155.40 407.95,156.86 408.20,158.33 408.45,159.75 408.70,161.07 408.95,162.25 409.00,172.4 353.20,172.4" fill="#56ab56"/><polyline points="353.20,165.68 353.45,165.32 353.70,164.83 353.95,164.19 354.20,163.39 354.45,162.42 354.70,161.29 354.95,160.03 355.20,158.67 355.45,157.26 355.70,155.87 355.95,154.54 356.20,153.35 356.45,152.35 356.70,151.55 356.95,150.99 357.20,150.65 357.45,150.51 357.70,150.51 357.95,150.61 358.20,150.91 358.45,151.42 358.70,152.17 358.95,153.14 359.20,154.29 359.45,155.59 359.70,156.98 359.95,158.39 360.20,159.77 360.45,161.05 360.70,162.21 360.95,163.21 361.20,164.04 361.45,164.71 361.70,165.23 361.95,165.61 362.20,165.89 362.45,166.08 362.70,166.21 362.95,166.29 363.20,166.34 363.45,166.37 363.70,166.38 363.95,166.39 364.20,166.40 364.45,166.40 364.70,166.40 364.95,166.40 365.20,166.40 365.45,166.40 365.70,166.40 365.95,166.40 366.20,166.40 366.45,166.40 366.70,166.40 366.95,166.39 367.20,166.39 367.45,166.38 367.70,166.36 367.95,166.33 368.20,166.27 368.45,166.18 368.70,166.04 368.95,165.83 369.20,165.53 369.45,165.11 369.70,164.56 369.95,163.84 370.20,162.96 370.45,161.91 370.70,160.70 370.95,159.37 371.20,157.95 371.45,156.52 371.70,155.12 371.95,153.82 372.20,152.67 372.45,151.73 372.70,151.02 372.95,150.54 373.20,150.28 373.45,150.20 373.70,150.23 373.95,150.41 374.20,150.80 374.45,151.42 374.70,152.27 374.95,153.34 375.20,154.58 375.45,155.95 375.70,157.38 375.95,158.81 376.20,160.18 376.45,161.44 376.70,162.56 376.95,163.51 377.20,164.29 377.45,164.91 377.70,165.38 377.95,165.72 378.20,165.97 378.45,166.13 378.70,166.24 378.95,166.31 379.20,166.35 379.45,166.37 379.70,166.39 379.95,166.39 380.20,166.40 380.45,166.40 380.70,166.40 380.95,166.40 381.20,166.40 381.45,166.40 381.70,166.40 381.95,166.40 382.20,166.40 382.45,166.40 382.70,166.40 382.95,166.40 383.20,166.40 383.45,166.40 383.70,166.39 383.95,166.39 384.20,166.38 384.45,166.36 384.70,166.33 384.95,166.27 385.20,166.19 385.45,166.06 385.70,165.86 385.95,165.58 386.20,165.19 386.45,164.68 386.70,164.03 386.95,163.23 387.20,162.29 387.45,161.21 387.70,160.04 387.95,158.80 388.20,157.55 388.45,156.34 388.70,155.24 388.95,154.27 389.20,153.49 389.45,152.91 389.70,152.53 389.95,152.34 390.20,152.30 390.45,152.34 390.70,152.53 390.95,152.91 391.20,153.49 391.45,154.27 391.70,155.24 391.95,156.34 392.20,157.55 392.45,158.80 392.70,160.04 392.95,161.21 393.20,162.29 393.45,163.23 393.70,164.03 393.95,164.68 394.20,165.19 394.45,165.58 394.70,165.86 394.95,166.06 395.20,166.19 395.45,166.27 395.70,166.33 395.95,166.36 396.20,166.38 396.45,166.39 396.70,166.39 396.95,166.40 397.20,166.40 397.45,166.40 397.70,166.40 397.95,166.40 398.20,166.40 398.45,166.40 398.70,166.40 398.95,166.40 399.20,166.40 399.45,166.39 399.70,166.38 399.95,166.36 400.20,166.33 400.45,166.28 400.70,166.20 400.95,166.06 401.20,165.87 401.45,165.58 401.70,165.18 401.95,164.64 402.20,163.94 402.45,163.07 402.70,162.02 402.95,160.82 403.20,159.47 403.45,158.04 403.70,156.57 403.95,155.12 404.20,153.76 404.45,152.55 404.70,151.54 404.95,150.76 405.20,150.22 405.45,149.92 405.70,149.81 405.95,149.82 406.20,149.96 406.45,150.31 406.70,150.90 406.95,151.73 407.20,152.78 407.45,154.02 407.70,155.40 407.95,156.86 408.20,158.33 408.45,159.75 408.70,161.07 408.95,162.25" fill="none" stroke="#111" stroke-width="1.7" stroke-linejoin="round"/></g>
<g clip-path="url(#c6)"><rect x="412.10" y="167.9" width="55.8" height="4.50" fill="#56ab56"/><polygon points="401.00,151.10 402.70,153.48 405.23,152.00 405.82,154.87 408.73,154.54 408.10,157.40 410.89,158.29 409.16,160.64 411.34,162.59 408.80,164.03 410.01,166.70 407.09,166.99 407.11,169.91 404.34,168.99 403.16,171.67 401.00,169.70 398.84,171.67 397.66,168.99 394.89,169.91 394.91,166.99 391.99,166.70 393.20,164.03 390.66,162.59 392.84,160.64 391.11,158.29 393.90,157.40 393.27,154.54 396.18,154.87 396.77,152.00 399.30,153.48" fill="#56ab56" stroke="#111" stroke-width="1.25" stroke-linejoin="round"/><polygon points="423.20,151.10 424.90,153.48 427.43,152.00 428.02,154.87 430.93,154.54 430.30,157.40 433.09,158.29 431.36,160.64 433.54,162.59 431.00,164.03 432.21,166.70 429.29,166.99 429.31,169.91 426.54,168.99 425.36,171.67 423.20,169.70 421.04,171.67 419.86,168.99 417.09,169.91 417.11,166.99 414.19,166.70 415.40,164.03 412.86,162.59 415.04,160.64 413.31,158.29 416.10,157.40 415.47,154.54 418.38,154.87 418.97,152.00 421.50,153.48" fill="#56ab56" stroke="#111" stroke-width="1.25" stroke-linejoin="round"/><polygon points="445.40,151.10 447.10,153.48 449.63,152.00 450.22,154.87 453.13,154.54 452.50,157.40 455.29,158.29 453.56,160.64 455.74,162.59 453.20,164.03 454.41,166.70 451.49,166.99 451.51,169.91 448.74,168.99 447.56,171.67 445.40,169.70 443.24,171.67 442.06,168.99 439.29,169.91 439.31,166.99 436.39,166.70 437.60,164.03 435.06,162.59 437.24,160.64 435.51,158.29 438.30,157.40 437.67,154.54 440.58,154.87 441.17,152.00 443.70,153.48" fill="#56ab56" stroke="#111" stroke-width="1.25" stroke-linejoin="round"/><polygon points="467.60,151.10 469.30,153.48 471.83,152.00 472.42,154.87 475.33,154.54 474.70,157.40 477.49,158.29 475.76,160.64 477.94,162.59 475.40,164.03 476.61,166.70 473.69,166.99 473.71,169.91 470.94,168.99 469.76,171.67 467.60,169.70 465.44,171.67 464.26,168.99 461.49,169.91 461.51,166.99 458.59,166.70 459.80,164.03 457.26,162.59 459.44,160.64 457.71,158.29 460.50,157.40 459.87,154.54 462.78,154.87 463.37,152.00 465.90,153.48" fill="#56ab56" stroke="#111" stroke-width="1.25" stroke-linejoin="round"/><rect x="412.10" y="167.9" width="55.8" height="4.50" fill="#56ab56"/></g>
<g clip-path="url(#c7)"><polygon points="471.00,163.70 471.25,163.71 471.50,163.71 471.75,163.71 472.00,163.72 472.25,163.72 472.50,163.72 472.75,163.73 473.00,163.73 473.25,163.74 473.50,163.75 473.75,163.75 474.00,163.76 474.25,163.77 474.50,163.77 474.75,163.78 475.00,163.79 475.25,163.80 475.50,163.81 475.75,163.82 476.00,163.83 476.25,163.84 476.50,163.85 476.75,163.86 477.00,163.88 477.25,163.89 477.50,163.90 477.75,163.91 478.00,163.93 478.25,163.94 478.50,163.95 478.75,163.97 479.00,163.98 479.25,164.00 479.50,164.01 479.75,164.02 480.00,164.04 480.25,164.05 480.50,164.07 480.75,164.09 481.00,164.10 481.25,164.12 481.50,164.13 481.75,164.15 482.00,164.17 482.25,164.18 482.50,164.20 482.75,164.22 483.00,164.23 483.25,164.25 483.50,164.27 483.75,164.28 484.00,164.30 484.25,164.32 484.50,164.33 484.75,164.35 485.00,164.37 485.25,164.38 485.50,164.40 485.75,164.42 486.00,164.43 486.25,164.45 486.50,164.47 486.75,164.48 487.00,164.50 487.25,164.51 487.50,164.53 487.75,164.55 488.00,164.56 488.25,164.58 488.50,164.59 488.75,164.60 489.00,164.62 489.25,164.63 489.50,164.65 489.75,164.66 490.00,164.67 490.25,164.69 490.50,164.70 490.75,164.71 491.00,164.72 491.25,164.74 491.50,164.75 491.75,164.76 492.00,164.77 492.25,164.78 492.50,164.79 492.75,164.80 493.00,164.81 493.25,164.82 493.50,164.83 493.75,164.83 494.00,164.84 494.25,164.85 494.50,164.85 494.75,164.86 495.00,164.87 495.25,164.87 495.50,164.88 495.75,164.88 496.00,164.88 496.25,164.89 496.50,164.89 496.75,164.89 497.00,164.90 497.25,164.90 497.50,164.90 497.75,164.90 498.00,164.90 498.25,164.90 498.50,164.90 498.75,164.90 499.00,164.90 499.25,164.89 499.50,164.89 499.75,164.89 500.00,164.88 500.25,164.88 500.50,164.88 500.75,164.87 501.00,164.87 501.25,164.86 501.50,164.85 501.75,164.85 502.00,164.84 502.25,164.83 502.50,164.83 502.75,164.82 503.00,164.81 503.25,164.80 503.50,164.79 503.75,164.78 504.00,164.77 504.25,164.76 504.50,164.75 504.75,164.74 505.00,164.72 505.25,164.71 505.50,164.70 505.75,164.69 506.00,164.67 506.25,164.66 506.50,164.65 506.75,164.63 507.00,164.62 507.25,164.60 507.50,164.59 507.75,164.58 508.00,164.56 508.25,164.55 508.50,164.53 508.75,164.51 509.00,164.50 509.25,164.48 509.50,164.47 509.75,164.45 510.00,164.43 510.25,164.42 510.50,164.40 510.75,164.38 511.00,164.37 511.25,164.35 511.50,164.33 511.75,164.32 512.00,164.30 512.25,164.28 512.50,164.27 512.75,164.25 513.00,164.23 513.25,164.22 513.50,164.20 513.75,164.18 514.00,164.17 514.25,164.15 514.50,164.13 514.75,164.12 515.00,164.10 515.25,164.09 515.50,164.07 515.75,164.05 516.00,164.04 516.25,164.02 516.50,164.01 516.75,164.00 517.00,163.98 517.25,163.97 517.50,163.95 517.75,163.94 518.00,163.93 518.25,163.91 518.50,163.90 518.75,163.89 519.00,163.88 519.25,163.86 519.50,163.85 519.75,163.84 520.00,163.83 520.25,163.82 520.50,163.81 520.75,163.80 521.00,163.79 521.25,163.78 521.50,163.77 521.75,163.77 522.00,163.76 522.25,163.75 522.50,163.75 522.75,163.74 523.00,163.73 523.25,163.73 523.50,163.72 523.75,163.72 524.00,163.72 524.25,163.71 524.50,163.71 524.75,163.71 525.00,163.70 525.25,163.70 525.50,163.70 525.75,163.70 526.00,163.70 526.25,163.70 526.50,163.70 526.75,163.70 526.80,172.4 471.00,172.4" fill="#56ab56"/><path d="M473.50,163.95V160.3M475.50,164.01V160.3M477.50,164.10V160.3M479.50,164.21V160.3M481.50,164.33V160.3M483.50,164.47V160.3M485.50,164.60V160.3M487.50,164.73V160.3M489.50,164.85V160.3M491.50,164.95V160.3M493.50,165.03V160.3M495.50,165.08V160.3M497.50,165.10V160.3M499.50,165.09V160.3M501.50,165.05V160.3M503.50,164.99V160.3M505.50,164.90V160.3M507.50,164.79V160.3M509.50,164.67V160.3M511.50,164.53V160.3M513.50,164.40V160.3M515.50,164.27V160.3M517.50,164.15V160.3M519.50,164.05V160.3M521.50,163.97V160.3M523.50,163.92V160.3M525.50,163.90V160.3" stroke="#3d6a98" stroke-width="0.85" stroke-linecap="round"/></g>
<rect x="58.70" y="139.7" width="55.8" height="32.70" fill="none" stroke="#3531ad" stroke-width="1.3" stroke-linejoin="round"/>
<rect x="117.60" y="139.7" width="55.8" height="32.70" fill="none" stroke="#3531ad" stroke-width="1.3" stroke-linejoin="round"/>
<rect x="176.50" y="139.7" width="55.8" height="32.70" fill="none" stroke="#3531ad" stroke-width="1.3" stroke-linejoin="round"/>
<rect x="235.40" y="139.7" width="55.8" height="32.70" fill="none" stroke="#3531ad" stroke-width="1.3" stroke-linejoin="round"/>
<rect x="294.30" y="139.7" width="55.8" height="32.70" fill="none" stroke="#3531ad" stroke-width="1.3" stroke-linejoin="round"/>
<rect x="353.20" y="139.7" width="55.8" height="32.70" fill="none" stroke="#3531ad" stroke-width="1.3" stroke-linejoin="round"/>
<rect x="412.10" y="139.7" width="55.8" height="32.70" fill="none" stroke="#3531ad" stroke-width="1.3" stroke-linejoin="round"/>
<rect x="471.00" y="139.7" width="55.8" height="32.70" fill="none" stroke="#3531ad" stroke-width="1.3" stroke-linejoin="round"/>
<path d="M58.6,132.5 C60.1,128.6 62.6,128.2 66.6,128.2 L113.55,128.2 C114.75,128.2 115.45,126.6 115.75,125.6 C116.05,126.6 116.75,128.2 117.95,128.2 L164.8,128.2 C168.8,128.2 171.3,128.6 172.8,132.5" fill="none" stroke="#2a2a2a" stroke-width="1.3"/>
<path d="M235.5,132.5 C237.0,128.6 239.5,128.2 243.5,128.2 L290.3,128.2 C291.5,128.2 292.2,126.6 292.5,125.6 C292.8,126.6 293.5,128.2 294.7,128.2 L341.2,128.2 C345.2,128.2 347.7,128.6 349.2,132.5" fill="none" stroke="#2a2a2a" stroke-width="1.3"/>
<g transform="translate(117.00,118.30) rotate(-45)"><text x="0" y="0.00">smooth surface</text></g>
<g transform="translate(193.12,107.32) rotate(-45)"><text x="0" y="0.00">low</text><text x="0" y="16.80">cuticular folds</text></g>
<g transform="translate(288.62,106.62) rotate(-45)"><text x="0" y="0.00">medium</text><text x="0" y="16.80">cuticular folds</text></g>
<g transform="translate(370.12,106.62) rotate(-45)"><text x="0" y="0.00">high</text><text x="0" y="16.80">cuticular folds</text></g>
<g transform="translate(427.32,106.32) rotate(-45)"><text x="0" y="0.00">hierarchical surface with</text><text x="0" y="16.80">cuticular folds</text></g>
<g transform="translate(494.62,106.12) rotate(-45)"><text x="0" y="0.00">3D epicuticular</text><text x="0" y="16.80">waxes</text></g>
<line x1="174.85" y1="177.2" x2="174.85" y2="527.3" stroke="#b0b0b0" stroke-width="1.6" stroke-dasharray="2 2.3"/>
<line x1="233.75" y1="177.2" x2="233.75" y2="527.3" stroke="#b0b0b0" stroke-width="1.6" stroke-dasharray="2 2.3"/>
<line x1="351.55" y1="177.2" x2="351.55" y2="527.3" stroke="#999" stroke-width="1.2" stroke-dasharray="2.2 2.1"/>
<line x1="410.45" y1="177.2" x2="410.45" y2="527.3" stroke="#888" stroke-width="1.2" stroke-dasharray="3 1.3 1 1.3"/>
<line x1="469.35" y1="177.2" x2="469.35" y2="527.3" stroke="#b4b4b4" stroke-width="1.5"/>
<line x1="86.50" y1="310.1" x2="86.50" y2="479.3" stroke="#404040" stroke-width="1.3"/>
<line x1="76.40" y1="310.1" x2="96.60" y2="310.1" stroke="#404040" stroke-width="1.3"/>
<line x1="76.40" y1="479.3" x2="96.60" y2="479.3" stroke="#404040" stroke-width="1.3"/>
<rect x="65.90" y="331.0" width="41.20" height="63.80" fill="#00c800" stroke="#111" stroke-width="1.3"/>
<line x1="65.90" y1="384.3" x2="107.10" y2="384.3" stroke="#111" stroke-width="1.4"/>
<line x1="145.40" y1="204.5" x2="145.40" y2="445.3" stroke="#404040" stroke-width="1.3"/>
<line x1="135.30" y1="204.5" x2="155.50" y2="204.5" stroke="#404040" stroke-width="1.3"/>
<line x1="135.30" y1="445.3" x2="155.50" y2="445.3" stroke="#404040" stroke-width="1.3"/>
<rect x="124.80" y="302.2" width="41.20" height="115.00" fill="#00c800" stroke="#111" stroke-width="1.3"/>
<line x1="124.80" y1="389.1" x2="166.00" y2="389.1" stroke="#111" stroke-width="1.4"/>
<line x1="204.30" y1="389.8" x2="204.30" y2="477.7" stroke="#404040" stroke-width="1.3"/>
<line x1="194.20" y1="389.8" x2="214.40" y2="389.8" stroke="#404040" stroke-width="1.3"/>
<line x1="194.20" y1="477.7" x2="214.40" y2="477.7" stroke="#404040" stroke-width="1.3"/>
<rect x="183.70" y="430.8" width="41.20" height="33.60" fill="#00c800" stroke="#111" stroke-width="1.3"/>
<line x1="183.70" y1="447.4" x2="224.90" y2="447.4" stroke="#111" stroke-width="1.4"/>
<line x1="263.20" y1="499.2" x2="263.20" y2="512.6" stroke="#404040" stroke-width="1.3"/>
<line x1="253.10" y1="499.2" x2="273.30" y2="499.2" stroke="#404040" stroke-width="1.3"/>
<line x1="253.10" y1="512.6" x2="273.30" y2="512.6" stroke="#404040" stroke-width="1.3"/>
<rect x="242.60" y="500.0" width="41.20" height="11.30" fill="#00c800" stroke="#111" stroke-width="1.3"/>
<line x1="242.60" y1="505.2" x2="283.80" y2="505.2" stroke="#111" stroke-width="1.4"/>
<line x1="322.10" y1="501.9" x2="322.10" y2="515.65" stroke="#404040" stroke-width="1.3"/>
<line x1="312.00" y1="501.9" x2="332.20" y2="501.9" stroke="#404040" stroke-width="1.3"/>
<line x1="312.00" y1="515.65" x2="332.20" y2="515.65" stroke="#404040" stroke-width="1.3"/>
<rect x="301.50" y="505.5" width="41.20" height="5.00" fill="#00c800" stroke="#111" stroke-width="1.3"/>
<line x1="301.50" y1="508.1" x2="342.70" y2="508.1" stroke="#111" stroke-width="1.4"/>
<line x1="381.00" y1="485.8" x2="381.00" y2="501.9" stroke="#404040" stroke-width="1.3"/>
<line x1="370.90" y1="485.8" x2="391.10" y2="485.8" stroke="#404040" stroke-width="1.3"/>
<line x1="370.90" y1="501.9" x2="391.10" y2="501.9" stroke="#404040" stroke-width="1.3"/>
<rect x="360.40" y="490.3" width="41.20" height="9.70" fill="#00c800" stroke="#111" stroke-width="1.3"/>
<line x1="360.40" y1="499.0" x2="401.60" y2="499.0" stroke="#111" stroke-width="1.4"/>
<line x1="439.90" y1="497.4" x2="439.90" y2="507.1" stroke="#404040" stroke-width="1.3"/>
<line x1="429.80" y1="497.4" x2="450.00" y2="497.4" stroke="#404040" stroke-width="1.3"/>
<line x1="429.80" y1="507.1" x2="450.00" y2="507.1" stroke="#404040" stroke-width="1.3"/>
<rect x="419.30" y="499.7" width="41.20" height="3.90" fill="#00c800" stroke="#111" stroke-width="1.3"/>
<line x1="419.30" y1="502.9" x2="460.50" y2="502.9" stroke="#111" stroke-width="1.4"/>
<line x1="498.80" y1="500.0" x2="498.80" y2="509.4" stroke="#404040" stroke-width="1.3"/>
<line x1="488.70" y1="500.0" x2="508.90" y2="500.0" stroke="#404040" stroke-width="1.3"/>
<line x1="488.70" y1="509.4" x2="508.90" y2="509.4" stroke="#404040" stroke-width="1.3"/>
<rect x="478.20" y="500.8" width="41.20" height="5.30" fill="#00c800" stroke="#111" stroke-width="1.3"/>
<line x1="478.20" y1="504.1" x2="519.40" y2="504.1" stroke="#111" stroke-width="1.4"/>
<rect x="48.3" y="177.2" width="482.10" height="350.10" fill="none" stroke="#3c3c3c" stroke-width="1.3"/>
<line x1="44.00" y1="523.70" x2="48.3" y2="523.70" stroke="#3c3c3c" stroke-width="1.2"/>
<text x="40.2" y="528.70" text-anchor="end">0</text>
<line x1="44.00" y1="477.50" x2="48.3" y2="477.50" stroke="#3c3c3c" stroke-width="1.2"/>
<text x="40.2" y="482.50" text-anchor="end">0.1</text>
<line x1="44.00" y1="431.30" x2="48.3" y2="431.30" stroke="#3c3c3c" stroke-width="1.2"/>
<text x="40.2" y="436.30" text-anchor="end">0.2</text>
<line x1="44.00" y1="385.10" x2="48.3" y2="385.10" stroke="#3c3c3c" stroke-width="1.2"/>
<text x="40.2" y="390.10" text-anchor="end">0.3</text>
<line x1="44.00" y1="338.90" x2="48.3" y2="338.90" stroke="#3c3c3c" stroke-width="1.2"/>
<text x="40.2" y="343.90" text-anchor="end">0.4</text>
<line x1="44.00" y1="292.70" x2="48.3" y2="292.70" stroke="#3c3c3c" stroke-width="1.2"/>
<text x="40.2" y="297.70" text-anchor="end">0.5</text>
<line x1="44.00" y1="246.50" x2="48.3" y2="246.50" stroke="#3c3c3c" stroke-width="1.2"/>
<text x="40.2" y="251.50" text-anchor="end">0.6</text>
<line x1="44.00" y1="200.30" x2="48.3" y2="200.30" stroke="#3c3c3c" stroke-width="1.2"/>
<text x="40.2" y="205.30" text-anchor="end">0.7</text>
<line x1="86.50" y1="527.3" x2="86.50" y2="530.3" stroke="#3c3c3c" stroke-width="1.2"/>
<line x1="145.40" y1="527.3" x2="145.40" y2="530.3" stroke="#3c3c3c" stroke-width="1.2"/>
<line x1="204.30" y1="527.3" x2="204.30" y2="530.3" stroke="#3c3c3c" stroke-width="1.2"/>
<line x1="263.20" y1="527.3" x2="263.20" y2="530.3" stroke="#3c3c3c" stroke-width="1.2"/>
<line x1="322.10" y1="527.3" x2="322.10" y2="530.3" stroke="#3c3c3c" stroke-width="1.2"/>
<line x1="381.00" y1="527.3" x2="381.00" y2="530.3" stroke="#3c3c3c" stroke-width="1.2"/>
<line x1="439.90" y1="527.3" x2="439.90" y2="530.3" stroke="#3c3c3c" stroke-width="1.2"/>
<line x1="498.80" y1="527.3" x2="498.80" y2="530.3" stroke="#3c3c3c" stroke-width="1.2"/>
<text transform="translate(10.2,363.2) rotate(-90)" text-anchor="middle">traction force relative to glass</text>
<text transform="translate(93.00,540.70) rotate(-45)" font-size="15.0" font-style="italic" text-anchor="end">M. grandiflora</text>
<text transform="translate(150.90,542.20) rotate(-45)" font-size="15.0" font-style="italic" text-anchor="end">I. aquifolium</text>
<text transform="translate(207.30,542.70) rotate(-45)" font-size="15.0" font-style="italic" text-anchor="end">L. chinensis</text>
<text transform="translate(270.50,541.00) rotate(-45)" font-size="15.0" font-style="italic" text-anchor="end">H. brasiliensis</text>
<text transform="translate(325.10,541.50) rotate(-45)" font-size="15.0" font-style="italic" text-anchor="end">C. persicum</text>
<g transform="translate(389.20,541.20) rotate(-45)" font-size="15.0"><text font-style="italic" text-anchor="end">H. brasiliensis</text><text text-anchor="middle" x="-43.75" y="17.2">(abaxial)</text></g>
<g transform="translate(442.90,542.70) rotate(-45)" font-size="15.0"><text font-style="italic" text-anchor="end">L. chinensis</text><text text-anchor="middle" x="-35.83" y="17.2">(abaxial)</text></g>
<text transform="translate(504.00,542.30) rotate(-45)" font-size="15.0" font-style="italic" text-anchor="end">D. kaki</text>
</svg></body></html>
